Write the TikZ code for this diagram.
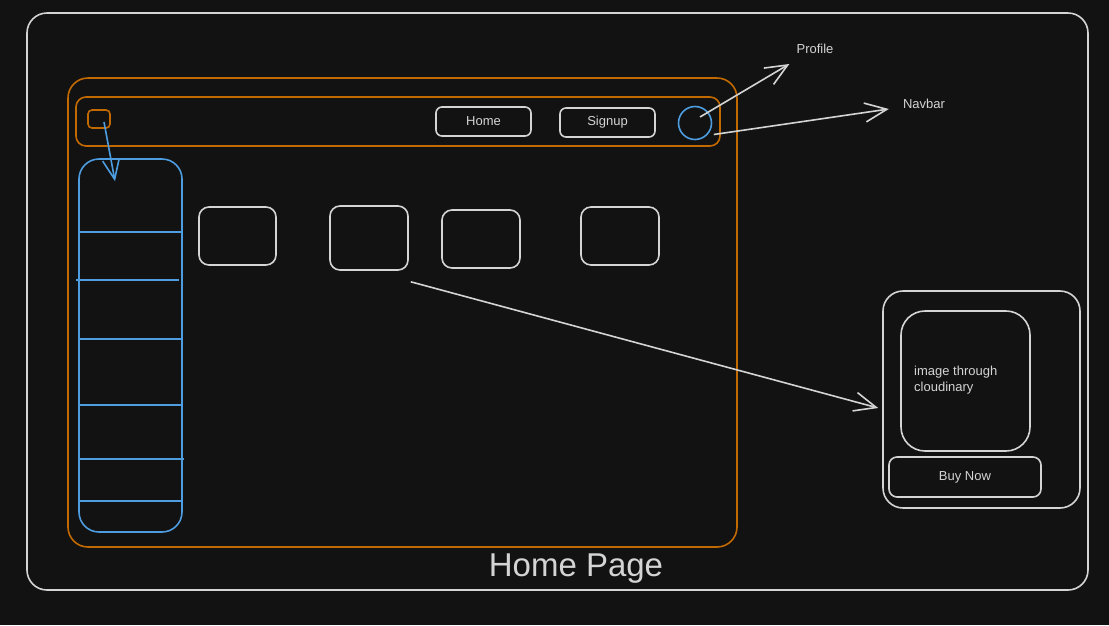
\documentclass[tikz,border=0pt]{standalone}
\usepackage{fontspec}
\setmainfont{Liberation Sans}
\usetikzlibrary{arrows.meta}
\definecolor{bg}{HTML}{121212}
\definecolor{chalk}{HTML}{D4D4D4}
\definecolor{rust}{HTML}{C26A00}
\definecolor{sky}{HTML}{4D9DE0}

\tikzset{
  frame/.style={draw=chalk, line width=1.6pt, rounded corners=20pt, inner sep=0pt},
  orangebox/.style={draw=rust, line width=1.6pt, inner sep=0pt},
  card/.style={draw=chalk, line width=1.6pt, rounded corners=10pt, inner sep=0pt},
  btn/.style={draw=chalk, line width=1.6pt, rounded corners=6pt, inner sep=0pt, text=chalk, font=\fontsize{13}{15}\selectfont},
  lbl/.style={text=chalk, inner sep=1pt, font=\fontsize{13}{16}\selectfont},
  pointer/.style={draw=chalk, line width=1.6pt, -{Straight Barb[length=22pt,width=19pt]}},
}

\begin{document}
\begin{tikzpicture}[x=1pt, y=-1pt]
    % Background and page frame
    \fill[bg] (0,0) rectangle (1109,625);
    \useasboundingbox (0,0) rectangle (1109,625);
    \node[frame, minimum width=1061pt, minimum height=577pt] (outer) at (557.5,301.5) {};

    % Page container and navbar
    \node[orangebox, rounded corners=20pt, minimum width=669pt, minimum height=469pt] (page) at (402.5,312.5) {};
    \node[orangebox, rounded corners=10pt, minimum width=644pt, minimum height=49pt] (navbar) at (398,121.5) {};
    \node[orangebox, rounded corners=4pt, minimum width=22pt, minimum height=18pt] (menu) at (99,119) {};
    \node[btn, minimum width=95pt, minimum height=29pt] (home) at (483.5,121.5) {Home};
    \node[btn, minimum width=95pt, minimum height=29pt] (signup) at (607.5,122.5) {Signup};
    \node[draw=sky, line width=1.6pt, circle, minimum size=33pt, inner sep=0pt] (avatar) at (695,123) {};

    % Sidebar with its rows
    \node[draw=sky, line width=1.6pt, rounded corners=20pt, minimum width=103pt, minimum height=373pt, inner sep=0pt] (sidebar) at (130.5,345.5) {};
    \foreach \y/\xa/\xb in {232/79/182, 280/76/179, 339/79/181, 405/79/181, 459/79/184, 501/79/182}
        \draw[sky, line width=1.6pt] (\xa,\y) -- (\xb,\y);

    % Product cards
    \node[card, minimum width=77pt, minimum height=58pt] (c1) at (237.5,236) {};
    \node[card, minimum width=78pt, minimum height=64pt] (c2) at (369,238) {};
    \node[card, minimum width=78pt, minimum height=58pt] (c3) at (481,239) {};
    \node[card, minimum width=78pt, minimum height=58pt] (c4) at (620,236) {};

    % Product detail
    \node[frame, minimum width=197pt, minimum height=217pt] (product) at (981.5,399.5) {};
    \node[card, rounded corners=24pt, minimum width=129pt, minimum height=140pt] (imgbox) at (965.5,381) {};
    \node[lbl, anchor=west, align=left] (imgtext) at (913,380) {image through\\cloudinary};
    \node[btn, rounded corners=8pt, minimum width=152pt, minimum height=40pt] (buy) at (965,477) {Buy Now};

    % Labels
    \node[lbl] (profilelbl) at (815,49) {Profile};
    \node[lbl] (navlbl) at (924,104) {Navbar};
    \node[text=chalk, font=\fontsize{33}{38}\selectfont] (title) at (576,569) {Home Page};

    % Arrows
    \draw[sky, line width=1.6pt, -{Straight Barb[length=20pt,width=17pt]}] ([shift={(5,3)}]menu.center) -- ([shift={(-15.5,23)}]sidebar.north);
    \draw[pointer] ([shift={(5,-6)}]avatar.center) -- ([shift={(-6,9)}]profilelbl.south west);
    \draw[pointer] ([shift={(-7,13)}]navbar.east) -- ([shift={(-13,5)}]navlbl.west);
    \draw[pointer] ([shift={(2,11)}]c2.south east) -- ([shift={(-4,8.5)}]product.west);
\end{tikzpicture}
\end{document}
